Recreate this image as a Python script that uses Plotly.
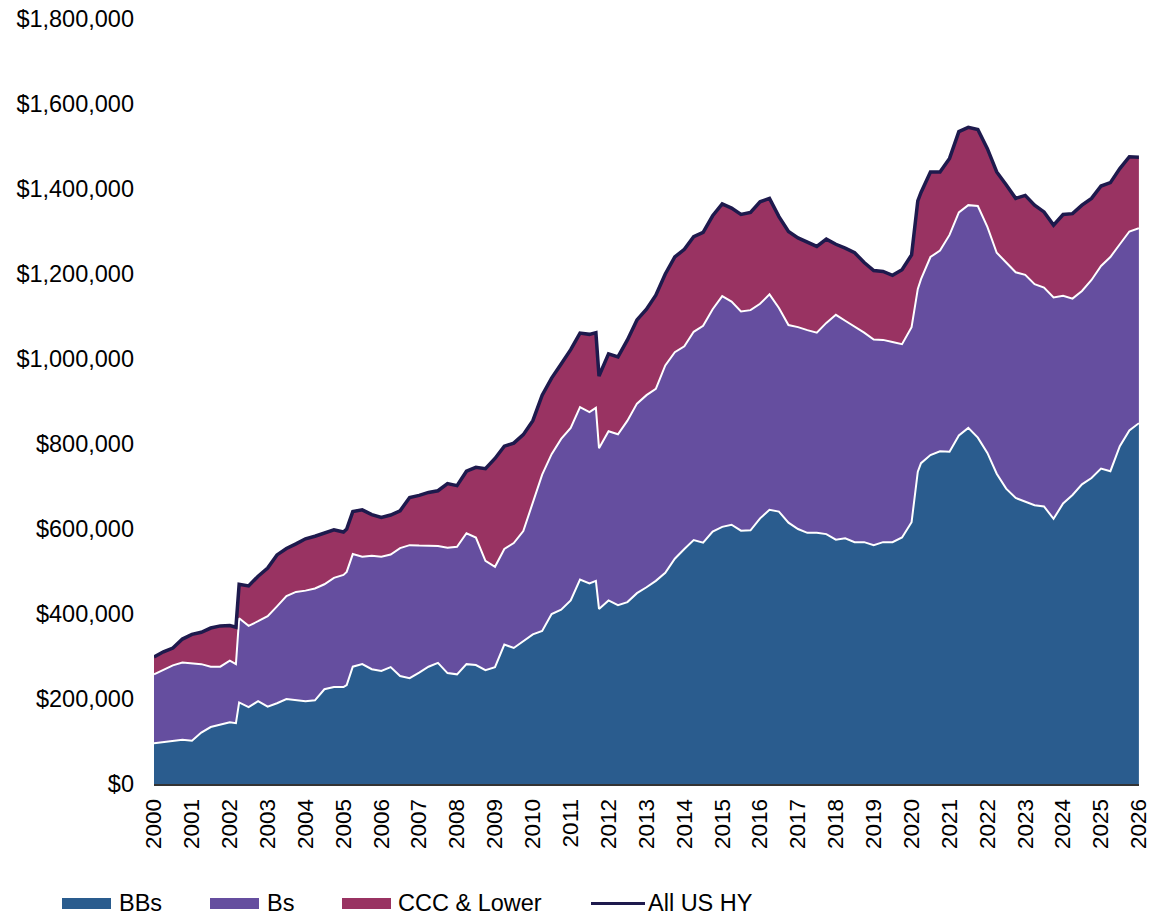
import plotly.graph_objects as go

dates = [
    "2000-01", "2000-04", "2000-07", "2000-10",
    "2001-01", "2001-04", "2001-07", "2001-10",
    "2002-01", "2002-03", "2002-04", "2002-07", "2002-10",
    "2003-01", "2003-04", "2003-07", "2003-10",
    "2004-01", "2004-04", "2004-07", "2004-10",
    "2005-01", "2005-02", "2005-04", "2005-07", "2005-10",
    "2006-01", "2006-04", "2006-07", "2006-10",
    "2007-01", "2007-04", "2007-07", "2007-10",
    "2008-01", "2008-04", "2008-07", "2008-10",
    "2009-01", "2009-04", "2009-07", "2009-10",
    "2010-01", "2010-04", "2010-07", "2010-10",
    "2011-01", "2011-04", "2011-07", "2011-09", "2011-10",
    "2012-01", "2012-04", "2012-07", "2012-10",
    "2013-01", "2013-04", "2013-07", "2013-10",
    "2014-01", "2014-04", "2014-07", "2014-10",
    "2015-01", "2015-04", "2015-07", "2015-10",
    "2016-01", "2016-04", "2016-07", "2016-10",
    "2017-01", "2017-04", "2017-07", "2017-10",
    "2018-01", "2018-04", "2018-07", "2018-10",
    "2019-01", "2019-04", "2019-07", "2019-10",
    "2020-01", "2020-03", "2020-04", "2020-07", "2020-10",
    "2021-01", "2021-04", "2021-07", "2021-10",
    "2022-01", "2022-04", "2022-07", "2022-10",
    "2023-01", "2023-04", "2023-07", "2023-10",
    "2024-01", "2024-04", "2024-07", "2024-10",
    "2025-01", "2025-04", "2025-07", "2025-10",
    "2026-01",
]

bbs = [
    96000, 99000, 101000, 104000,
    102000, 121000, 134000, 140000,
    145000, 143000, 192000, 181000, 195000,
    182000, 190000, 200000, 197000,
    195000, 197000, 223000, 228000,
    228000, 233000, 276000, 282000, 270000,
    266000, 275000, 254000, 249000,
    262000, 276000, 285000, 261000,
    258000, 282000, 280000, 268000,
    275000, 328000, 320000, 335000,
    352000, 360000, 400000, 410000,
    432000, 481000, 472000, 478000, 412000,
    432000, 421000, 428000, 449000,
    463000, 478000, 497000, 530000,
    553000, 574000, 568000, 594000,
    605000, 610000, 596000, 597000,
    625000, 645000, 641000, 615000,
    600000, 591000, 591000, 588000,
    575000, 578000, 569000, 569000,
    562000, 569000, 569000, 580000,
    616000, 735000, 755000, 774000, 783000,
    782000, 820000, 838000, 815000,
    779000, 730000, 695000, 673000,
    665000, 656000, 653000, 624000,
    660000, 680000, 705000, 720000,
    742000, 736000, 795000, 832000,
    849000,
]

bs = [
    162000, 169000, 178000, 182000,
    182000, 161000, 142000, 136000,
    145000, 139000, 198000, 191000, 188000,
    213000, 228000, 242000, 255000,
    260000, 263000, 247000, 257000,
    264000, 266000, 265000, 253000, 267000,
    269000, 265000, 301000, 313000,
    299000, 284000, 275000, 295000,
    300000, 308000, 300000, 257000,
    236000, 225000, 247000, 260000,
    308000, 368000, 376000, 402000,
    406000, 406000, 403000, 407000, 378000,
    398000, 402000, 427000, 446000,
    452000, 452000, 488000, 486000,
    477000, 490000, 510000, 523000,
    543000, 525000, 516000, 518000,
    505000, 507000, 479000, 465000,
    475000, 477000, 471000, 497000,
    529000, 512000, 508000, 493000,
    484000, 476000, 471000, 455000,
    459000, 430000, 433000, 466000, 472000,
    510000, 525000, 524000, 545000,
    532000, 520000, 533000, 531000,
    533000, 520000, 515000, 521000,
    489000, 462000, 455000, 466000,
    477000, 504000, 475000, 468000,
    459000,
]

ccc_lower = [
    41000, 43000, 41000, 55000,
    68000, 75000, 91000, 96000,
    83000, 87000, 80000, 94000, 106000,
    113000, 121000, 112000, 113000,
    122000, 123000, 121000, 113000,
    101000, 101000, 100000, 110000, 97000,
    92000, 93000, 88000, 112000,
    118000, 126000, 130000, 151000,
    144000, 146000, 165000, 217000,
    255000, 242000, 235000, 227000,
    195000, 187000, 179000, 176000,
    184000, 174000, 183000, 177000, 170000,
    182000, 182000, 190000, 197000,
    202000, 220000, 215000, 224000,
    228000, 224000, 220000, 220000,
    217000, 220000, 228000, 230000,
    240000, 226000, 215000, 220000,
    210000, 206000, 203000, 197000,
    166000, 171000, 173000, 165000,
    162000, 161000, 157000, 175000,
    170000, 207000, 204000, 200000, 185000,
    180000, 190000, 183000, 180000,
    184000, 190000, 182000, 174000,
    187000, 186000, 178000, 170000,
    191000, 200000, 202000, 192000,
    188000, 175000, 178000, 176000,
    167000,
]

all_us_hy = [a + b + c for a, b, c in zip(bbs, bs, ccc_lower)]

year_ticks = [f"{y}-01-01" for y in range(2000, 2027)]
year_labels = [str(y) for y in range(2000, 2027)]

series_names = ["BBs", "Bs", "CCC & Lower", "All US HY"]

C_BB = "#2A5C8E"
C_B = "#654E9F"
C_CCC = "#993362"
C_ALL = "#1E1A4D"
FONT = "Liberation Sans, Arial, sans-serif"

fig = go.Figure()
fig.add_trace(go.Scatter(
    x=dates, y=bbs, name=series_names[0], stackgroup="hy", mode="lines",
    line=dict(color="white", width=2), fillcolor=C_BB, showlegend=False,
))
fig.add_trace(go.Scatter(
    x=dates, y=bs, name=series_names[1], stackgroup="hy", mode="lines",
    line=dict(color="white", width=2), fillcolor=C_B, showlegend=False,
))
fig.add_trace(go.Scatter(
    x=dates, y=ccc_lower, name=series_names[2], stackgroup="hy", mode="lines",
    line=dict(color=C_CCC, width=0), fillcolor=C_CCC, showlegend=False,
))
fig.add_trace(go.Scatter(
    x=dates, y=all_us_hy, name=series_names[3], mode="lines",
    line=dict(color=C_ALL, width=3.5), showlegend=False,
))

# custom legend (page-pixel layout converted to paper coordinates)
PX0, PW, PY0, PH = 154.0, 985.0, 784.0, 765.0


def px(x):
    return (x - PX0) / PW


def py(y):
    return (PY0 - y) / PH


legend_items = [
    (series_names[0], C_BB, "rect", 62, 111, 117),
    (series_names[1], C_B, "rect", 210, 259, 265),
    (series_names[2], C_CCC, "rect", 342, 391, 396),
    (series_names[3], C_ALL, "line", 591, 645, 646),
]
shapes = []
annotations = []
for name, color, kind, x0, x1, tx in legend_items:
    if kind == "rect":
        shapes.append(dict(
            type="rect", xref="paper", yref="paper",
            x0=px(x0), x1=px(x1), y0=py(909), y1=py(898),
            fillcolor=color, line=dict(width=0),
        ))
    else:
        shapes.append(dict(
            type="line", xref="paper", yref="paper",
            x0=px(x0), x1=px(x1), y0=py(903.5), y1=py(903.5),
            line=dict(color=color, width=3),
        ))
    annotations.append(dict(
        text=name, xref="paper", yref="paper", x=px(tx), y=py(903.5),
        xanchor="left", yanchor="middle", showarrow=False,
        font=dict(size=23.5, color="black", family=FONT),
    ))

fig.update_layout(
    width=1150, height=916,
    paper_bgcolor="white", plot_bgcolor="white",
    margin=dict(l=154, r=11, t=19, b=132, autoexpand=False),
    font=dict(family=FONT, size=23, color="black"),
    showlegend=False,
    shapes=shapes,
    annotations=annotations,
    xaxis=dict(
        type="date", range=["2000-01-01", "2026-01-02"],
        tickmode="array", tickvals=year_ticks, ticktext=year_labels,
        tickangle=-90, showgrid=False, zeroline=False, automargin=False,
        showline=True, linecolor="#333333", linewidth=2,
        ticks="", tickfont=dict(size=22.5, color="black"),
        ticklabeloverflow="allow", ticklabelstandoff=4,
    ),
    yaxis=dict(
        range=[0, 1800000], dtick=200000, tick0=0, automargin=False,
        tickprefix="$", tickformat=",d", showgrid=False, zeroline=False,
        showline=False, ticks="", tickfont=dict(size=23.5, color="black"),
        ticklabeloverflow="allow", ticklabelstandoff=19,
    ),
)

fig.write_html(
    "out.html",
    config={"displayModeBar": False},
    post_script="document.body.style.margin='0px';document.body.style.overflow='hidden';",
)
